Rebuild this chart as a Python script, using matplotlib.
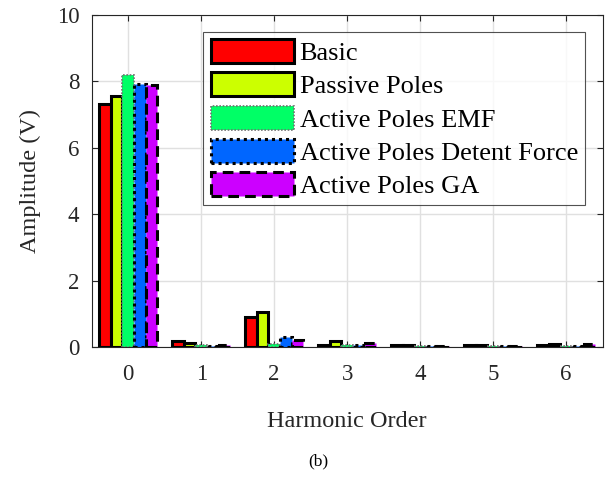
import matplotlib
matplotlib.use("Agg")
import matplotlib.pyplot as plt
import numpy as np

harmonics = [0, 1, 2, 3, 4, 5, 6]
series_names = ["Basic", "Passive Poles", "Active Poles EMF",
                "Active Poles Detent Force", "Active Poles GA"]
basic = [7.31, 0.19, 0.91, 0.06, 0.06, 0.05, 0.07]
passive = [7.56, 0.12, 1.06, 0.18, 0.07, 0.06, 0.10]
emf = [8.18, 0.05, 0.10, 0.05, 0.04, 0.04, 0.04]
detent = [7.92, 0.04, 0.31, 0.05, 0.04, 0.03, 0.03]
ga = [7.90, 0.05, 0.20, 0.12, 0.04, 0.04, 0.08]

colors = ["#FF0000", "#CCFF00", "#00FF66", "#0066FF", "#CC00FF"]

plt.rcParams['font.family'] = ['Liberation Serif', 'DejaVu Serif']

fig = plt.figure(figsize=(6.13, 4.78), dpi=100)
ax = fig.add_axes([0.1496, 0.274, 0.8334, 0.695])

data = [basic, passive, emf, detent, ga]
styles = [
    dict(edgecolor="black", linewidth=2.2, linestyle="-"),
    dict(edgecolor="black", linewidth=2.2, linestyle="-"),
    dict(edgecolor="#707070", linewidth=1.2, linestyle=(0, (1, 1))),
    dict(edgecolor="black", linewidth=2.2, linestyle=(0, (1, 1.3))),
    dict(edgecolor="black", linewidth=2.2, linestyle=(0, (3.5, 2))),
]
x = np.arange(len(harmonics))
w = 0.16
for i, (vals, c, st) in enumerate(zip(data, colors, styles)):
    ax.bar(x + (i - 2) * w, vals, width=w, color=c, label=series_names[i],
           zorder=3, **st)

ax.set_xlim(-0.5, 6.5)
ax.set_ylim(0, 10)
ax.set_xticks(x)
ax.set_xticklabels([str(h) for h in harmonics])
ax.set_yticks([0, 2, 4, 6, 8, 10])
ax.grid(True, color="#E0E0E0", linewidth=1.0, zorder=0)
ax.set_axisbelow(True)
ax.tick_params(direction="in", length=4, width=0.8, top=True, right=True,
               labelsize=16.5, colors="#262626")
ax.tick_params(axis="x", pad=12)
ax.tick_params(axis="y", pad=9)
for s in ax.spines.values():
    s.set_color("#262626")
    s.set_linewidth(0.8)

ax.set_xlabel("Harmonic Order", fontsize=17.5, color="#262626", labelpad=19)
ax.set_ylabel("Amplitude (V)", fontsize=17.5, color="#262626", labelpad=11)

leg = ax.legend(loc="upper right", fontsize=19, handlelength=3.15,
                handleheight=1.02, labelspacing=0.27, handletextpad=0.22,
                borderpad=0.28, borderaxespad=0.65, frameon=True,
                fancybox=False, edgecolor="#262626")
leg.get_frame().set_linewidth(0.8)

fig.text(0.519, 0.034, "(b)", fontsize=12.5, ha="center", va="center",
         color="black")

fig.savefig("out.png", dpi=100)
